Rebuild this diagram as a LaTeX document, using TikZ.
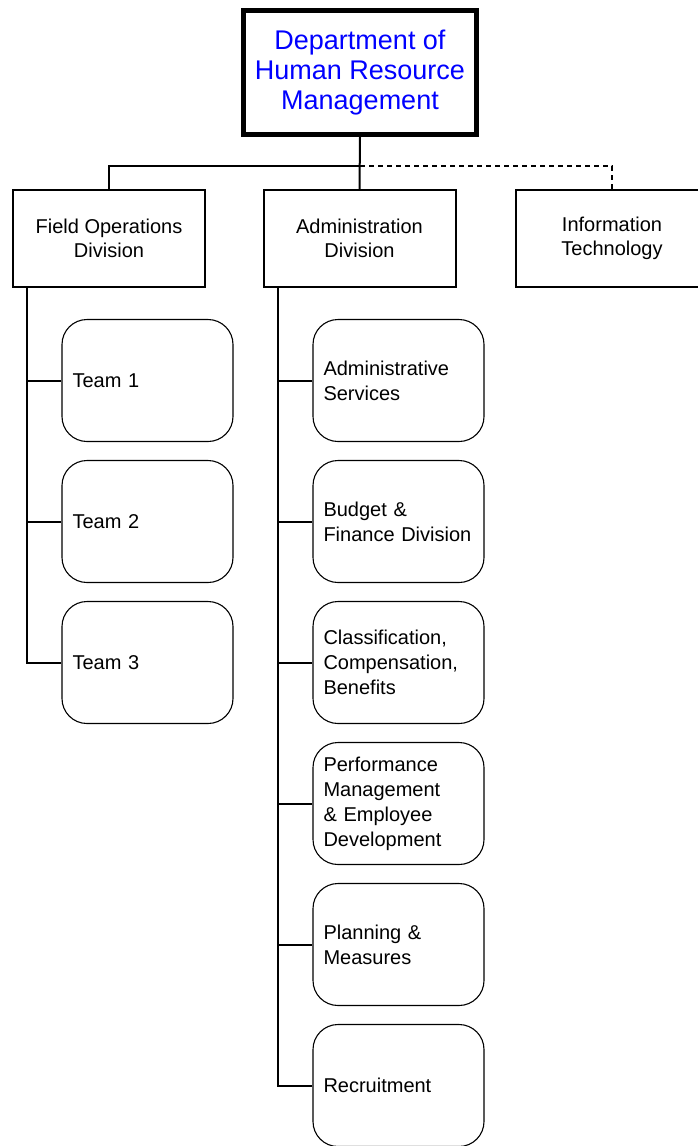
\documentclass[tikz,border=0pt]{standalone}
\usepackage{fontspec}
\setmainfont{Liberation Sans}
\usepackage{tikz}
\usetikzlibrary{calc}

\begin{document}
\begin{tikzpicture}[x=1pt,y=-1pt,
  head/.style={draw,line width=5pt,minimum width=233pt,minimum height=124pt,align=center,text=blue,font=\fontsize{27}{30}\selectfont},
  division/.style={draw,line width=2pt,minimum width=192pt,minimum height=97pt,align=center,font=\fontsize{20}{24}\selectfont},
  unit/.style={draw,line width=1.1pt,rounded corners=25pt,minimum width=171pt,minimum height=122pt,text width=150pt,inner xsep=10.5pt,align=left,font=\fontsize{20}{25}\selectfont},
  conn/.style={line width=2pt}]
\useasboundingbox (0,0) rectangle (698,1146);
\node[head] (dept) at (360,72.5) {Department of\\Human Resource\\Management};
\node[division] (field) at (109,238.5) {Field Operations\\Division};
\node[division] (admin) at (359.5,238.5) {Administration\\Division};
\node[division] (it) at (612,238.5) {Information\\Technology};
\node[unit] (team1) at (147.5,380.5) {Team 1};
\node[unit] (team2) at (147.5,521.5) {Team 2};
\node[unit] (team3) at (147.5,662.5) {Team 3};
\node[unit] (adm1) at (398.5,380.5) {Administrative\\Services};
\node[unit] (adm2) at (398.5,521.5) {Budget \&\\Finance Division};
\node[unit] (adm3) at (398.5,662.5) {Classification,\\Compensation,\\Benefits};
\node[unit] (adm4) at (398.5,803.5) {Performance\\Management\\\& Employee\\Development};
\node[unit] (adm5) at (398.5,944.5) {Planning \&\\Measures};
\node[unit] (adm6) at (398.5,1085.5) {Recruitment};
\coordinate (bus) at (360,166);
\coordinate (ftrunk) at ([xshift=15pt]field.south west);
\coordinate (atrunk) at ([xshift=15pt]admin.south west);
\draw[conn] (dept.south) -- (admin.north);
\draw[conn] (field.north) |- (bus);
\draw[conn,line width=1.5pt,dash pattern=on 5pt off 4pt] (bus) -| (it.north);
\draw[conn] (ftrunk) |- (team3.west);
\draw[conn] (ftrunk |- team1.west) -- (team1.west);
\draw[conn] (ftrunk |- team2.west) -- (team2.west);
\draw[conn] (atrunk) |- (adm6.west);
\draw[conn] (atrunk |- adm1.west) -- (adm1.west);
\draw[conn] (atrunk |- adm2.west) -- (adm2.west);
\draw[conn] (atrunk |- adm3.west) -- (adm3.west);
\draw[conn] (atrunk |- adm4.west) -- (adm4.west);
\draw[conn] (atrunk |- adm5.west) -- (adm5.west);
\end{tikzpicture}
\end{document}
